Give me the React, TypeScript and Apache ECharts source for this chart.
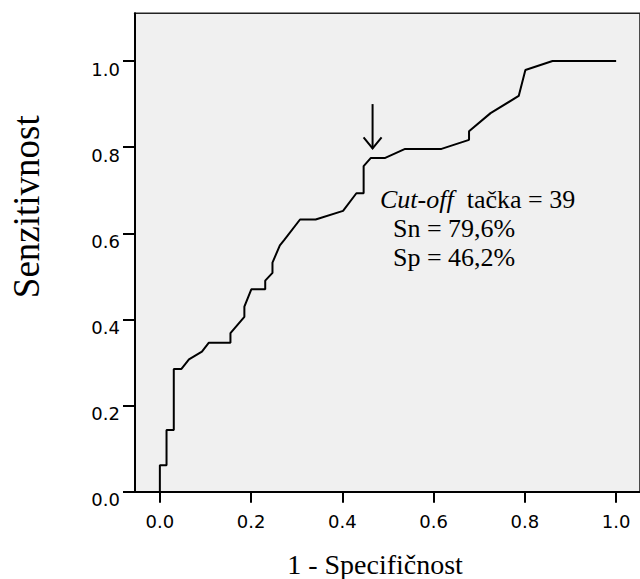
import React, { useEffect, useRef } from "react";
import * as echarts from "echarts";

// 1 - Specificity (x) and Sensitivity (y) of the ROC curve
const fpr = [0, 0, 0.0146, 0.0146, 0.0305, 0.0305, 0.0473, 0.0638, 0.0922, 0.1074, 0.1547, 0.1547, 0.1852, 0.1852, 0.2004, 0.2309, 0.2309, 0.2468, 0.2468, 0.263, 0.2723, 0.3072, 0.3414, 0.4015, 0.4307, 0.4466, 0.4466, 0.4625, 0.4939, 0.5375, 0.6172, 0.6776, 0.6776, 0.7248, 0.7865, 0.8011, 0.8606, 1.0];
const tpr = [0, 0.0613, 0.0613, 0.143, 0.143, 0.285, 0.285, 0.307, 0.325, 0.346, 0.346, 0.368, 0.406, 0.43, 0.47, 0.47, 0.49, 0.508, 0.532, 0.572, 0.584, 0.632, 0.632, 0.652, 0.693, 0.693, 0.756, 0.775, 0.775, 0.796, 0.796, 0.817, 0.837, 0.879, 0.919, 0.979, 1.0, 1.0];

const xTicks = [0, 0.2, 0.4, 0.6, 0.8, 1.0];
const yTicks = [0, 0.2, 0.4, 0.6, 0.8, 1.0];

// cut-off arrow: [x, yTop, yTip]
const arrowData = [[0.4662, 0.9, 0.797]];

const xTitle = "1 - Specifičnost";
const yTitle = "Senzitivnost";
const noteLines = ["{i|Cut-off}  tačka = 39", "Sn = 79,6%", "Sp = 46,2%"];

const SERIF = "'Liberation Serif', 'Times New Roman', serif";
const SANS = "'DejaVu Sans', sans-serif";

export default function App() {
  const ref = useRef<HTMLDivElement>(null);

  useEffect(() => {
    if (!ref.current) return;
    const chart = echarts.init(ref.current, null, { renderer: "svg" });
    const rocData = fpr.map((x, i) => [x, tpr[i]]);

    const option = {
      animation: false,
      backgroundColor: "#ffffff",
      grid: {
        left: 135,
        top: 13.3,
        right: -3,
        bottom: 87.3,
        show: true,
        backgroundColor: "#f0f0f0",
        borderColor: "#222222",
        borderWidth: 1.6,
      },
      xAxis: {
        type: "value",
        min: -0.0545,
        max: 1.0523,
        splitLine: { show: false },
        axisLine: { show: true, onZero: false, lineStyle: { color: "#000", width: 2 } },
        axisTick: { show: true, inside: false, length: 11, customValues: xTicks, lineStyle: { color: "#000", width: 2 } },
        axisLabel: {
          customValues: xTicks,
          formatter: (v: number) => v.toFixed(1),
          margin: 21,
          color: "#000",
          fontFamily: SANS,
          fontSize: 18,
          lineHeight: 17,
        },
      },
      yAxis: {
        type: "value",
        min: 0,
        max: 1.1108,
        splitLine: { show: false },
        axisLine: { show: true, onZero: false, lineStyle: { color: "#000", width: 2 } },
        axisTick: { show: true, inside: false, length: 12, customValues: yTicks, lineStyle: { color: "#000", width: 2 } },
        axisLabel: {
          customValues: yTicks,
          formatter: (v: number) => v.toFixed(1),
          margin: 15,
          color: "#000",
          fontFamily: SANS,
          fontSize: 18,
          verticalAlign: "top",
          lineHeight: 16,
        },
      },
      series: [
        {
          type: "line",
          data: rocData,
          symbol: "none",
          lineStyle: { color: "#000", width: 2 },
          silent: true,
        },
        {
          type: "custom",
          data: arrowData,
          encode: { x: 0, y: [1, 2] },
          silent: true,
          renderItem: (params: any, api: any) => {
            const x = api.value(0);
            const p1 = api.coord([x, api.value(1)]);
            const p2 = api.coord([x, api.value(2)]);
            return {
              type: "group",
              children: [
                {
                  type: "line",
                  shape: { x1: p1[0], y1: p1[1], x2: p2[0], y2: p2[1] },
                  style: { stroke: "#000", lineWidth: 2 },
                },
                {
                  type: "polyline",
                  shape: {
                    points: [
                      [p2[0] - 9, p2[1] - 11],
                      [p2[0], p2[1]],
                      [p2[0] + 9, p2[1] - 11],
                    ],
                  },
                  style: { stroke: "#000", lineWidth: 2, fill: "none" },
                },
              ],
            };
          },
        },
      ],
      graphic: [
        {
          type: "text",
          x: 375,
          y: 564.8,
          style: {
            text: xTitle,
            fontFamily: SERIF,
            fontSize: 28,
            fill: "#000",
            align: "center",
            verticalAlign: "middle",
            textAlign: "center",
            textVerticalAlign: "middle",
          },
        },
        {
          type: "text",
          x: 26.4,
          y: 206.7,
          rotation: Math.PI / 2,
          style: {
            text: yTitle,
            fontFamily: SERIF,
            fontSize: 37,
            fill: "#000",
            align: "center",
            verticalAlign: "middle",
            textAlign: "center",
            textVerticalAlign: "middle",
          },
        },
        ...noteLines.map((t, i) => ({
          type: "text",
          x: i === 0 ? 380 : 393,
          y: 199.5 + i * 29.2,
          style: {
            text: t,
            fontFamily: SERIF,
            fontSize: 26,
            fill: "#000",
            align: "left",
            verticalAlign: "middle",
            textAlign: "left",
            textVerticalAlign: "middle",
            rich: {
              i: { fontFamily: SERIF, fontSize: 26, fontStyle: "italic", fill: "#000" },
            },
          },
        })),
      ],
    };

    chart.setOption(option as any);
    return () => chart.dispose();
  }, []);

  return (
    <div
      ref={ref}
      style={{ position: "fixed", left: 0, top: 0, width: 640, height: 579 }}
    />
  );
}
